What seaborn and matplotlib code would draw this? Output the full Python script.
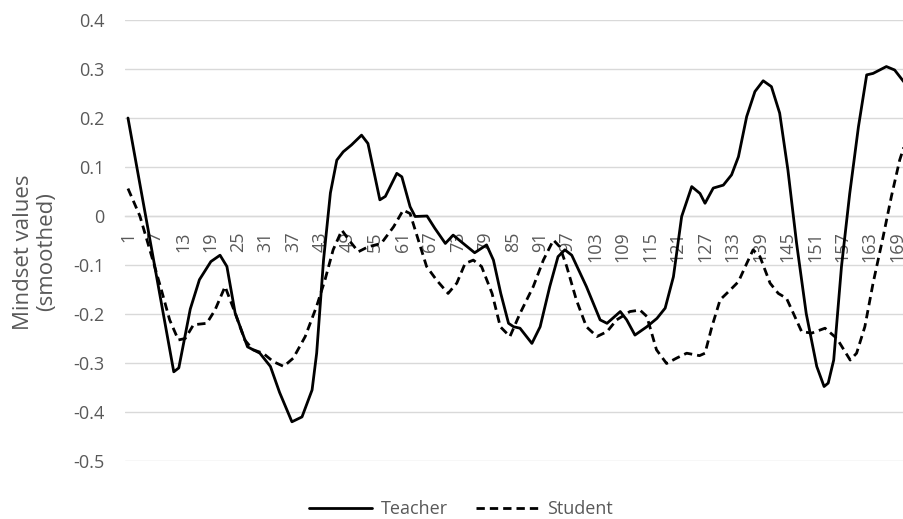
import seaborn as sns
import matplotlib.pyplot as plt
import pandas as pd

# values (sample index, smoothed mindset value)
teacher_x = [1, 11.0, 12.1, 14.6, 16.6, 19.1, 21.1, 22.6, 24.4, 27.1, 29.8, 32.1, 34.1, 36.8,
             39.0, 41.2, 42.2, 43.7, 45.2, 46.6, 48.0, 49.8, 52.0, 53.4, 56.0, 57.2, 59.7, 60.8,
             62.6, 63.7, 66.3, 68.0, 70.3, 72.0, 74.6, 76.7, 79.3, 80.8, 82.4, 84.1, 85.2, 86.6,
             89.2, 91.0, 93.1, 94.9, 96.4, 97.9, 101.1, 104.1, 105.6, 108.5, 109.9, 111.7, 114.3,
             116.5, 118.3, 120.1, 121.9, 124.1, 125.9, 127.0, 128.8, 131.0, 132.8, 134.3, 136.1,
             137.9, 139.7, 141.5, 143.3, 145.1, 147.0, 149.1, 151.4, 153.0, 153.9, 155.1, 156.8,
             158.6, 160.5, 162.3, 163.7, 166.6, 168.4, 170.4]
teacher_y = [0.20, -0.318, -0.31, -0.19, -0.13, -0.093, -0.08, -0.103, -0.198, -0.267, -0.28,
             -0.307, -0.36, -0.42, -0.41, -0.355, -0.28, -0.09, 0.047, 0.114, 0.131, 0.145,
             0.165, 0.148, 0.033, 0.04, 0.087, 0.08, 0.019, -0.001, 0.0, -0.025, -0.056, -0.039,
             -0.059, -0.075, -0.059, -0.09, -0.158, -0.219, -0.226, -0.229, -0.26, -0.226,
             -0.144, -0.083, -0.069, -0.08, -0.144, -0.212, -0.219, -0.195, -0.212, -0.243,
             -0.226, -0.209, -0.188, -0.124, -0.001, 0.06, 0.046, 0.026, 0.057, 0.063, 0.084,
             0.121, 0.203, 0.254, 0.276, 0.264, 0.21, 0.094, -0.056, -0.199, -0.307, -0.348,
             -0.341, -0.294, -0.103, 0.046, 0.182, 0.288, 0.291, 0.305, 0.298, 0.274]

student_x = [1, 3.6, 5.8, 8.3, 10.1, 12.0, 13.5, 15.3, 18.2, 20.0, 22.2, 24.4, 26.5, 28.3, 30.5,
             32.7, 35.0, 37.1, 39.7, 42.2, 44.0, 45.8, 47.7, 49.5, 51.3, 53.4, 56.3, 59.0, 61.1,
             62.6, 64.4, 66.2, 68.4, 70.9, 72.8, 74.6, 76.4, 78.2, 80.5, 82.3, 84.4, 86.6, 89.5,
             91.7, 93.9, 95.3, 96.8, 98.9, 101.1, 103.4, 105.6, 107.7, 110.6, 112.8, 114.3, 116.4,
             118.6, 120.8, 123.0, 125.8, 127.0, 128.5, 130.3, 132.5, 134.3, 136.1, 137.5, 139.0,
             141.2, 143.0, 144.8, 146.6, 148.1, 150.3, 153.2, 155.8, 158.7, 160.1, 161.9, 163.7,
             165.9, 167.7, 169.5, 170.4]
student_y = [0.056, 0.0, -0.07, -0.151, -0.212, -0.253, -0.25, -0.222, -0.219, -0.192, -0.144,
             -0.198, -0.253, -0.273, -0.28, -0.297, -0.307, -0.29, -0.246, -0.184, -0.131,
             -0.069, -0.029, -0.052, -0.073, -0.063, -0.056, -0.022, 0.012, 0.005, -0.049,
             -0.103, -0.131, -0.158, -0.137, -0.097, -0.09, -0.103, -0.158, -0.226, -0.246,
             -0.199, -0.144, -0.09, -0.049, -0.063, -0.103, -0.171, -0.226, -0.246, -0.236,
             -0.212, -0.195, -0.192, -0.205, -0.273, -0.301, -0.29, -0.28, -0.285, -0.28,
             -0.226, -0.171, -0.151, -0.134, -0.097, -0.069, -0.083, -0.137, -0.158, -0.168,
             -0.205, -0.236, -0.239, -0.229, -0.25, -0.294, -0.28, -0.226, -0.137, -0.042, 0.04,
             0.114, 0.14]

x_ticks = list(range(1, 170, 6))
y_ticks = [-0.5, -0.4, -0.3, -0.2, -0.1, 0, 0.1, 0.2, 0.3, 0.4]
y_labels = ["-0.5", "-0.4", "-0.3", "-0.2", "-0.1", "0", "0.1", "0.2", "0.3", "0.4"]

df = pd.concat([
    pd.DataFrame({"x": teacher_x, "y": teacher_y, "series": "Teacher"}),
    pd.DataFrame({"x": student_x, "y": student_y, "series": "Student"}),
])

sns.set_theme(style="white")
plt.rcParams["font.family"] = ["Open Sans", "DejaVu Sans"]
grey = "#595959"

fig = plt.figure(figsize=(9.04, 5.19), dpi=100)
ax = fig.add_axes([125 / 904, 1 - 461 / 519, 779 / 904, 441 / 519])

sns.lineplot(data=df, x="x", y="y", style="series", color="black", linewidth=2,
             dashes={"Teacher": "", "Student": (3, 1.8)}, estimator=None, sort=True,
             ax=ax, legend=False)

ax.set_xlim(0.35, 170.45)
ax.set_ylim(-0.5, 0.4)
ax.set_yticks(y_ticks)
ax.set_yticklabels(y_labels)
ax.set_xticks(x_ticks)
ax.set_xticklabels([str(t) for t in x_ticks])
ax.tick_params(axis="y", length=0, pad=15, labelsize=13, labelcolor=grey)
ax.tick_params(axis="x", length=0, pad=11, labelsize=13, labelcolor=grey, labelrotation=90)
for lab in ax.get_xticklabels():
    lab.set_ha("center")
    lab.set_va("top")
ax.yaxis.grid(True, color="#d9d9d9", linewidth=1)
ax.set_axisbelow(True)
for s in ["top", "right", "left"]:
    ax.spines[s].set_visible(False)
ax.spines["bottom"].set_position(("data", 0))
ax.spines["bottom"].set_color("#d9d9d9")
ax.spines["bottom"].set_linewidth(1)
ax.spines["bottom"].set_zorder(0)
ax.set_xlabel("")
ax.set_ylabel("")

fig.text(35 / 904, 1 - 252 / 519, "Mindset values\n(smoothed)", rotation=90,
         ha="center", va="center", fontsize=16, color=grey, multialignment="center",
         linespacing=1.1)

handles = [plt.Line2D([], [], color="black", linewidth=2),
           plt.Line2D([], [], color="black", linewidth=2, dashes=(3, 1.8))]
fig.legend(handles, ["Teacher", "Student"], loc="center", ncol=2,
           bbox_to_anchor=(461 / 904, 1 - 509 / 519), frameon=False, fontsize=13,
           handlelength=3.5, handletextpad=0.45, columnspacing=1.55, labelcolor=grey)

fig.savefig("out.png", dpi=100)
